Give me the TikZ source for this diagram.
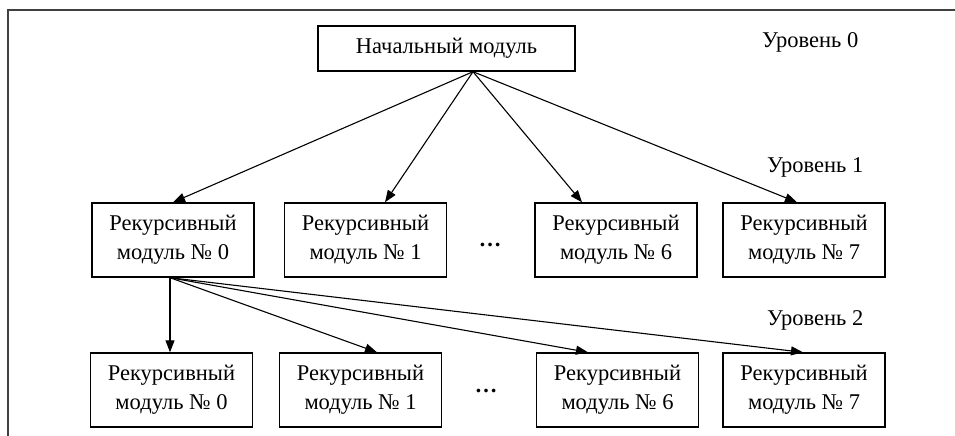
\documentclass[tikz,border=0pt]{standalone}
\usepackage{fontspec}
\setmainfont{Liberation Serif}
\usetikzlibrary{arrows.meta,calc}
\begin{document}
\begin{tikzpicture}[x=1pt,y=-1pt,
  every node/.style={font=\fontsize{22.5}{29}\selectfont, inner sep=0pt},
  modbox/.style={draw=black, line width=1.4pt, minimum width=162pt, minimum height=74pt, align=center},
  topbox/.style={draw=black, line width=1.4pt, minimum width=257pt, minimum height=45pt},
  lvl/.style={anchor=west},
  dotsnode/.style={font=\fontsize{22.5}{29}\selectfont\bfseries},
  conn/.style={line width=1.1pt, -{Triangle[length=12pt,width=9pt]}}]
\useasboundingbox (0,0) rectangle (955,436);
% frame
\draw[line width=1.4pt, black!75] (8,436) -- (8,10) -- (955,10);
% top
\node[topbox] (top) at (446.5,48.5) {Начальный модуль};
% level 1
\node[modbox] (a0) at (173,240) {Рекурсивный\\модуль № 0};
\node[modbox] (a1) at (365.5,240) {Рекурсивный\\модуль № 1};
\node[modbox] (a6) at (616,240) {Рекурсивный\\модуль № 6};
\node[modbox] (a7) at (804,240) {Рекурсивный\\модуль № 7};
\node[dotsnode] (d1) at (490,245) {…};
% level 2
\node[modbox] (b0) at (171.5,390) {Рекурсивный\\модуль № 0};
\node[modbox] (b1) at (360.5,390) {Рекурсивный\\модуль № 1};
\node[modbox] (b6) at (617.5,390) {Рекурсивный\\модуль № 6};
\node[modbox] (b7) at (804,390) {Рекурсивный\\модуль № 7};
\node[dotsnode] (d2) at (486,391) {…};
% level labels
\node[lvl] (l0) at (762,42) {Уровень 0};
\node[lvl] (l1) at (767,167) {Уровень 1};
\node[lvl] (l2) at (767,320) {Уровень 2};
% connectors
\coordinate (s0) at ([xshift=26.5pt]top.south);
\draw[conn] (s0) -- (a0.north);
\draw[conn] (s0) -- ([xshift=19.5pt]a1.north);
\draw[conn] (s0) -- ([xshift=-34pt]a6.north);
\draw[conn] (s0) -- ([xshift=-7pt]a7.north);
\coordinate (s1) at ([xshift=-3pt]a0.south);
\draw[conn] (s1) -- (s1 |- b0.north);
\draw[conn] (s1) -- ([xshift=16.5pt]b1.north);
\draw[conn] (s1) -- ([xshift=-29.5pt]b6.north);
\draw[conn] (s1) -- ([xshift=-1pt]b7.north);
\end{tikzpicture}
\end{document}
